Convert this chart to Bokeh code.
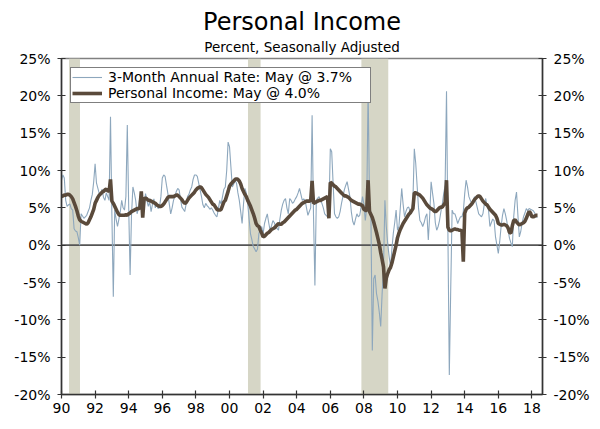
from bokeh.plotting import figure
from bokeh.models import (FixedTicker, LinearAxis, Range1d, Span, Title,
                          Legend, LegendItem, BoxAnnotation)
from bokeh.embed import file_html
from bokeh.resources import INLINE

# ---------------- data (monthly, Jan 1990 - May 2018) ----------------
start_year = 1990

# Personal Income, year-over-year % change
yoy = [
    6.5, 6.6, 6.7, 6.7, 6.8, 6.8, 6.7, 6.5, 6.2, 5.7, 5.2, 4.6,   # 1990
    3.9, 3.4, 3.2, 3.1, 3.0, 2.9, 2.8, 3.0, 3.4, 3.8, 4.3, 4.8,   # 1991
    5.6, 6.0, 6.4, 6.7, 6.9, 7.1, 7.2, 7.4, 7.5, 7.3, 7.2, 8.8,   # 1992
    5.9, 5.6, 5.2, 4.8, 4.4, 4.1, 4.0, 4.0, 4.0, 4.0, 4.1, 4.0,   # 1993
    4.2, 4.3, 4.5, 4.6, 4.7, 4.8, 4.9, 4.9, 5.0, 7.2, 3.7, 6.2,   # 1994
    6.3, 6.2, 6.0, 6.0, 5.9, 5.8, 5.7, 5.6, 5.4, 5.3, 5.2, 5.2,   # 1995
    5.3, 5.5, 5.8, 6.1, 6.4, 6.5, 6.5, 6.5, 6.5, 6.6, 6.7, 6.7,   # 1996
    6.5, 6.3, 6.1, 5.8, 5.6, 5.7, 6.0, 6.3, 6.5, 6.7, 6.9, 7.1,   # 1997
    7.4, 7.6, 7.7, 7.8, 7.7, 7.4, 7.1, 6.8, 6.6, 6.4, 6.1, 5.8,   # 1998
    5.5, 5.4, 5.1, 4.8, 4.7, 4.7, 4.8, 5.3, 5.8, 6.0, 6.6, 7.2,   # 1999
    7.9, 8.2, 8.4, 8.6, 8.8, 8.9, 8.8, 8.6, 8.2, 7.6, 7.2, 6.8,   # 2000
    6.5, 6.0, 5.6, 5.2, 4.7, 4.2, 3.6, 2.9, 2.6, 2.5, 2.0, 1.6,   # 2001
    1.1, 1.2, 1.4, 1.6, 1.7, 1.9, 2.1, 2.2, 2.3, 2.5, 2.7, 2.9,   # 2002
    2.8, 2.8, 3.0, 3.1, 3.3, 3.5, 3.7, 3.9, 4.1, 4.3, 4.5, 4.7,   # 2003
    4.8, 5.0, 5.2, 5.4, 5.6, 5.7, 5.8, 5.9, 5.9, 5.9, 6.0, 8.6,   # 2004
    5.6, 5.7, 5.8, 5.9, 6.0, 6.0, 6.1, 6.2, 6.3, 6.4, 6.5, 3.6,   # 2005
    8.4, 8.3, 8.1, 7.9, 7.8, 7.6, 7.4, 7.2, 7.0, 6.8, 6.6, 6.6,   # 2006
    6.5, 6.4, 6.2, 6.0, 5.9, 5.8, 5.7, 5.6, 5.5, 5.5, 5.4, 5.3,   # 2007
    4.8, 4.7, 4.6, 8.7, 4.5, 4.1, 3.7, 3.1, 2.4, 1.7, 0.9, 0.1,   # 2008
    -1.0, -1.9, -2.9, -5.8, -4.4, -3.8, -3.3, -3.0, -2.4, -1.6, -0.8, 0.0,  # 2009
    1.0, 1.6, 2.1, 2.5, 2.9, 3.2, 3.5, 3.8, 4.1, 4.3, 4.6, 4.9,   # 2010
    7.0, 7.0, 6.9, 6.8, 6.7, 6.5, 6.3, 6.0, 5.7, 5.4, 5.2, 5.0,   # 2011
    4.9, 4.8, 4.6, 4.5, 4.6, 4.8, 5.0, 5.1, 5.1, 5.4, 5.7, 8.7,   # 2012
    2.4, 2.0, 1.9, 2.0, 2.1, 2.2, 2.1, 2.1, 2.0, 2.0, 1.9, -2.2,  # 2013
    4.3, 4.8, 5.0, 5.1, 5.3, 5.5, 5.8, 6.1, 6.3, 6.5, 6.6, 6.5,   # 2014
    6.2, 5.9, 5.7, 5.5, 5.4, 5.1, 4.8, 4.6, 4.4, 4.2, 4.0, 3.6,   # 2015
    2.9, 2.8, 2.7, 2.7, 2.8, 2.7, 2.6, 2.3, 1.7, 1.6, 2.6, 3.3,   # 2016
    3.4, 3.1, 2.9, 2.7, 2.8, 2.9, 3.0, 3.2, 3.6, 4.1, 4.5, 4.3,   # 2017
    3.8, 3.8, 3.9, 4.0, 4.0,                                      # 2018
]

# 3-month annualized rate
ann3 = [
    8.7, 9.4, 9.0, 6.0, 5.2, 5.4, 5.5, 4.9, 4.7, 2.2, 1.9, 1.8,   # 1990
    1.0, 0.0, 4.2, 3.9, 3.6, 3.8, 4.0, 4.5, 5.0, 6.0, 6.8, 8.5,   # 1991
    10.9, 8.3, 7.6, 6.9, 6.8, 7.5, 6.4, 6.0, 7.0, 6.5, 6.0, 17.2, # 1992
    4.0, -6.9, 4.7, 3.5, 2.5, 3.5, 4.5, 6.0, 5.0, 4.7, 6.5, 16.1, # 1993
    5.0, -4.0, 4.0, 7.8, 7.0, 6.0, 4.2, 5.0, 6.5, 5.8, 3.8, 5.0,  # 1994
    6.9, 6.0, 5.2, 5.8, 4.5, 5.5, 6.2, 5.0, 5.6, 4.9, 5.1, 6.5,   # 1995
    9.0, 9.4, 9.2, 8.0, 6.9, 5.5, 4.2, 5.0, 6.0, 6.5, 7.2, 7.6,   # 1996
    7.4, 6.2, 5.1, 4.8, 4.5, 5.5, 6.5, 6.8, 7.4, 7.8, 8.8, 9.4,   # 1997
    9.4, 9.2, 8.3, 7.4, 6.5, 5.4, 5.0, 5.6, 5.3, 5.1, 4.8, 5.0,   # 1998
    4.7, 4.3, 4.0, 3.8, 4.8, 6.0, 5.5, 6.5, 7.5, 7.8, 10.0, 13.8, # 1999
    13.2, 10.5, 7.8, 8.2, 8.7, 8.3, 7.0, 6.0, 4.5, 2.9, 5.5, 7.6, # 2000
    7.0, 5.6, 3.5, 1.5, 0.7, -0.2, -0.5, -0.9, -0.5, 1.6, 2.0, 2.5,  # 2001
    1.5, 2.9, 3.6, 4.2, 3.0, 2.0, 2.6, 3.3, 3.0, 2.5, 2.2, 2.0,   # 2002
    3.5, 4.7, 5.5, 6.0, 6.25, 5.0, 4.2, 6.25, 6.0, 5.6, 5.8, 6.2, # 2003
    6.5, 7.0, 7.6, 6.8, 6.0, 6.2, 6.0, 5.0, 4.0, 4.5, 5.0, 17.4,  # 2004
    4.0, -5.4, 6.0, 6.3, 6.5, 6.0, 5.6, 5.0, 4.2, 4.0, 3.8, 4.5,  # 2005
    12.9, 12.5, 8.3, 4.2, 3.8, 3.6, 3.8, 4.5, 5.6, 6.5, 7.4, 8.0, # 2006
    8.5, 7.5, 6.5, 4.5, 3.2, 2.7, 3.5, 4.2, 3.8, 4.0, 5.1, 6.5,   # 2007
    5.5, 3.3, 5.0, 21.0, 6.0, 4.2, -14.1, -4.5, -4.0, -6.5, -7.5, -9.0,  # 2008
    -10.9, -6.5, -2.9, 6.0, 2.5, 0.2, -1.5, -2.9, -0.5, 1.6, 3.0, 4.7,   # 2009
    2.0, 2.5, 5.0, 7.6, 5.5, 3.8, 4.5, 5.0, 5.1, 4.5, 4.2, 6.0,   # 2010
    12.9, 11.0, 8.0, 5.0, 3.3, 3.0, 2.5, 3.0, 3.8, 4.2, 0.7, 4.0, # 2011
    8.5, 7.0, 5.6, 3.0, 2.0, 2.5, 3.3, 4.5, 5.5, 6.9, 8.0, 20.6,  # 2012
    1.6, -17.4, -6.0, 4.7, 4.2, 4.2, 3.6, 2.9, 3.4, 3.8, 3.8, 4.5,  # 2013
    6.9, 8.7, 7.8, 6.5, 6.0, 5.6, 6.0, 6.5, 5.8, 5.0, 4.2, 4.0,   # 2014
    3.8, 4.2, 5.5, 6.25, 5.2, 4.7, 2.5, 3.0, 3.5, 3.3, 1.1, 0.0,  # 2015
    -1.1, 0.5, 2.5, 4.0, 4.9, 4.2, 3.3, 2.0, 0.9, 0.3, -0.2, 3.8, # 2016
    6.0, 7.1, 4.0, 1.1, 1.8, 3.0, 3.8, 4.3, 4.9, 4.6, 4.9, 4.8,   # 2017
    4.7, 4.6, 4.3, 3.8, 3.7,                                      # 2018
]

# recessions (decimal years)
rec_start = [1990.45, 2001.10, 2007.85]
rec_end = [1991.10, 2001.85, 2009.45]

x_ticks = list(range(1990, 2019, 2))
x_labels = ["90", "92", "94", "96", "98", "00", "02", "04", "06", "08",
            "10", "12", "14", "16", "18"]
y_ticks = [-20, -15, -10, -5, 0, 5, 10, 15, 20, 25]
y_labels = ["-20%", "-15%", "-10%", "-5%", "0%", "5%", "10%", "15%", "20%", "25%"]

legend_labels = ["3-Month Annual Rate: May @ 3.7%", "Personal Income: May @ 4.0%"]

# monthly time axis
t = [start_year + i / 12.0 for i in range(len(yoy))]

FONT = "DejaVu Sans"
AX = "#333333"

p = figure(width=592, height=421,
           x_range=Range1d(1990, 2018.63), y_range=Range1d(-20, 25),
           output_backend="svg", toolbar_location=None,
           min_border_left=61, min_border_right=50,
           min_border_top=58, min_border_bottom=27)
p.background_fill_color = "white"
p.border_fill_color = "white"
p.outline_line_color = "#808080"
p.outline_line_width = 1.5
p.xgrid.visible = False
p.ygrid.visible = False

# titles
sub = Title(text="Percent, Seasonally Adjusted", align="center",
            text_font=FONT, text_font_size="13.5px", text_font_style="normal",
            text_color="#000000", standoff=8)
main = Title(text="Personal Income", align="center",
             text_font=FONT, text_font_size="24px", text_font_style="normal",
             text_color="#000000", standoff=-6)
p.add_layout(sub, "above")
p.add_layout(main, "above")

# recession shading
for s, e in zip(rec_start, rec_end):
    p.add_layout(BoxAnnotation(left=s, right=e, fill_color="#D6D6C6",
                               fill_alpha=1.0, line_color=None, level="underlay"))

p.add_layout(Span(location=0, dimension="width", line_color="#555555",
                  line_width=1.6, level="underlay"))

r_thin = p.line(t, ann3, line_color="#8DA7BD", line_width=1.1)
r_thick = p.line(t, yoy, line_color="#5A4A3B", line_width=3.6)

# axes
right = LinearAxis()
p.add_layout(right, "right")

xa = p.xaxis[0]
xa.ticker = FixedTicker(ticks=x_ticks)
xa.major_label_overrides = {v: lab for v, lab in zip(x_ticks, x_labels)}

for ya in (p.yaxis[0], right):
    ya.ticker = FixedTicker(ticks=y_ticks)
    ya.major_label_overrides = {v: lab for v, lab in zip(y_ticks, y_labels)}

for ax in (xa, p.yaxis[0], right):
    ax.axis_line_color = AX
    ax.axis_line_width = 1.5
    ax.major_tick_line_color = AX
    ax.major_tick_line_width = 1.2
    ax.major_tick_in = 4
    ax.major_tick_out = 4
    ax.minor_tick_in = 0
    ax.minor_tick_out = 0
    ax.major_label_text_font = FONT
    ax.major_label_text_font_size = "14px"
    ax.major_label_text_color = "#000000"
    ax.major_label_standoff = 7
xa.major_label_standoff = 4

legend = Legend(items=[LegendItem(label=legend_labels[0], renderers=[r_thin]),
                       LegendItem(label=legend_labels[1], renderers=[r_thick])],
                location="top_left", margin=9, padding=1, spacing=0,
                glyph_width=30, glyph_height=16, label_height=16,
                label_standoff=6, label_width=261,
                label_text_font=FONT, label_text_font_size="14px",
                label_text_color="#000000",
                border_line_color="#000000", border_line_width=1,
                background_fill_color="white", background_fill_alpha=1.0)
p.add_layout(legend)

open("out.html", "w").write(file_html(p, INLINE))
